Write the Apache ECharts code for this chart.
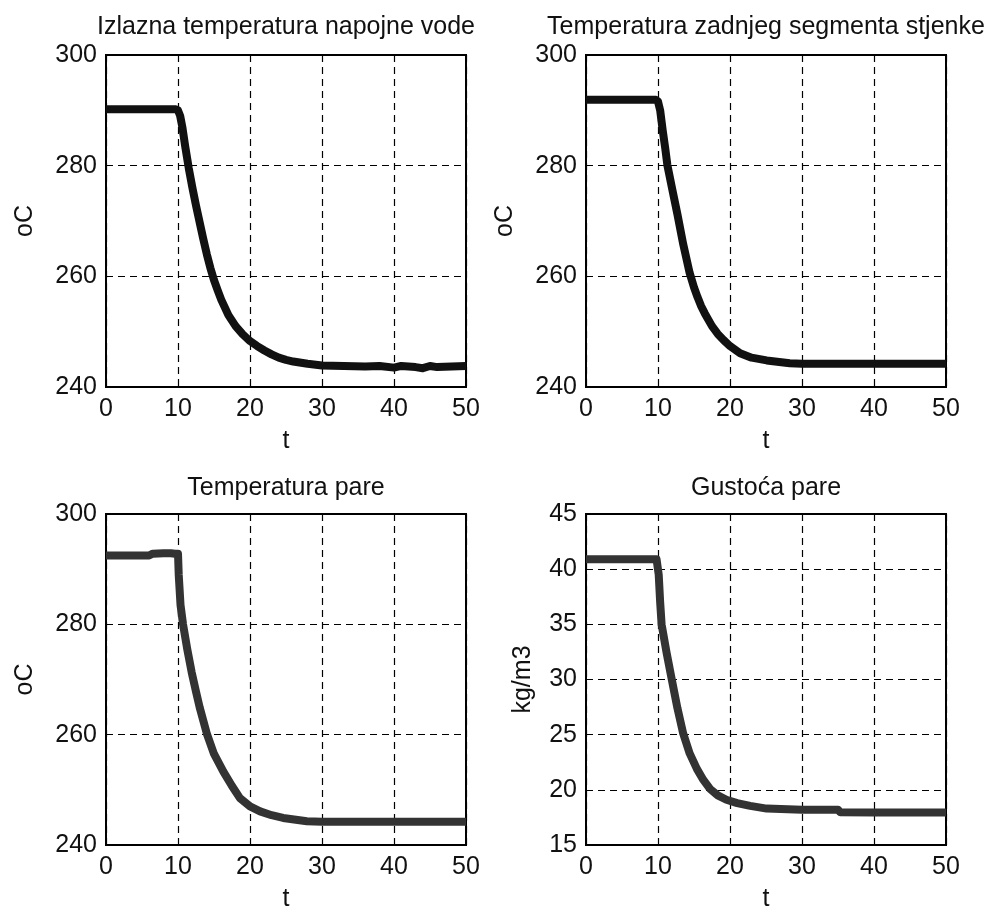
<!DOCTYPE html>
<html>
<head>
<meta charset="utf-8">
<script src="https://cdn.jsdelivr.net/npm/echarts@6/dist/echarts.min.js"></script>
<style>
html,body{margin:0;padding:0;background:#fff;}
#chart{width:994px;height:913px;}
</style>
</head>
<body>
<div id="chart"></div>
<script>
// ---- data ----
const titles = ['Izlazna temperatura napojne vode', 'Temperatura zadnjeg segmenta stjenke', 'Temperatura pare', 'Gustoća pare'];
const yNames = ['oC', 'oC', 'oC', 'kg/m3'];
const xTicks = [0, 10, 20, 30, 40, 50];
const yTicksTemp = [240, 260, 280, 300];
const yTicksDens = [15, 20, 25, 30, 35, 40, 45];

const tTL = [0, 5, 9.7, 10, 10.3, 10.6, 11, 11.5, 12, 12.5, 13, 13.5, 14, 14.5, 15, 15.5, 16, 17, 18, 19, 20, 21, 22, 23, 24, 25, 26, 28, 30, 33, 36, 38, 40, 41, 43, 44, 45, 46, 48, 50];
const vTL = [290.2, 290.2, 290.2, 290, 289, 287, 283.5, 279.5, 276, 272.8, 269.8, 266.8, 264, 261.5, 259.3, 257.5, 255.8, 253, 251, 249.5, 248.3, 247.4, 246.6, 245.9, 245.3, 244.9, 244.6, 244.2, 243.9, 243.8, 243.7, 243.8, 243.5, 243.8, 243.6, 243.4, 243.8, 243.6, 243.7, 243.8];

const tTR = [0, 9.7, 10, 10.3, 10.65, 11, 11.3, 12, 12.7, 13.5, 14.4, 15, 15.5, 16, 16.5, 17.5, 18.3, 19.1, 20, 21.4, 23, 25.1, 28.3, 30, 40, 50];
const vTR = [291.9, 291.9, 291.6, 290, 286.4, 283.2, 280.1, 275.6, 271.2, 265.8, 260.6, 258, 256.2, 254.6, 253.3, 251, 249.6, 248.5, 247.4, 246.1, 245.3, 244.8, 244.3, 244.2, 244.2, 244.2];

const tBL = [0, 6, 6.5, 8, 9, 9.6, 10, 10.1, 10.35, 10.7, 11.3, 11.9, 12.5, 13, 14, 15, 16.3, 17.5, 18.6, 20, 21.4, 23, 24.6, 27.9, 30, 40, 50];
const vBL = [292.5, 292.5, 292.8, 292.9, 292.9, 292.8, 292.8, 289, 283.5, 280, 275.4, 271.3, 267.8, 265, 260.2, 256.5, 253.3, 250.7, 248.5, 247, 246.1, 245.4, 244.9, 244.3, 244.2, 244.2, 244.2];

const tBR = [0, 9.8, 10, 10.1, 10.3, 10.5, 11.2, 11.9, 12.7, 13.5, 14.4, 15.4, 16.3, 17.2, 18.3, 19.5, 21, 22.8, 25.1, 30, 35, 35.3, 40, 50];
const vBR = [40.9, 40.9, 40.8, 39.5, 37, 35, 32.4, 30.05, 27.4, 25.1, 23.3, 21.9, 20.9, 20.1, 19.5, 19.1, 18.8, 18.55, 18.3, 18.2, 18.2, 17.97, 17.95, 17.95];

const seriesT = [tTL, tTR, tBL, tBR];
const seriesV = [vTL, vTR, vBL, vBR];
const lineColors = ['#111111', '#111111', '#333333', '#333333'];

// ---- layout ----
const FONT = '"Liberation Sans", Arial, sans-serif';
const grids = [
  {left: 106, top: 55, width: 360, height: 332},
  {left: 586, top: 55, width: 360, height: 332},
  {left: 106, top: 514, width: 360, height: 333},
  {left: 586, top: 514, width: 360, height: 333}
];
const titleTops = [15, 15, 476, 476];
const yNameGaps = [68, 68, 68, 50];

const option = {
  animation: false,
  backgroundColor: '#fff',
  title: titles.map((t, i) => ({
    text: t,
    left: grids[i].left + grids[i].width / 2,
    top: titleTops[i],
    textAlign: 'center',
    padding: 0,
    textStyle: {fontFamily: FONT, fontSize: 25, fontWeight: 'normal', color: '#111'}
  })),
  grid: grids.map(g => Object.assign({show: true, borderColor: '#000', borderWidth: 2, backgroundColor: 'transparent', containLabel: false}, g)),
  xAxis: grids.map((g, i) => ({
    gridIndex: i,
    type: 'value',
    min: xTicks[0],
    max: xTicks[xTicks.length - 1],
    interval: 10,
    name: 't',
    nameLocation: 'middle',
    nameGap: 42,
    nameTextStyle: {fontFamily: FONT, fontSize: 25, color: '#111'},
    axisLine: {show: false},
    axisTick: {show: true, inside: true, length: 5, lineStyle: {color: '#000'}},
    axisLabel: {fontFamily: FONT, fontSize: 25, color: '#111', margin: 10},
    splitLine: {show: true, lineStyle: {color: '#000', width: 1.2, type: [7, 5]}}
  })),
  yAxis: grids.map((g, i) => {
    const ticks = i === 3 ? yTicksDens : yTicksTemp;
    return {
      gridIndex: i,
      type: 'value',
      min: ticks[0],
      max: ticks[ticks.length - 1],
      interval: ticks[1] - ticks[0],
      name: yNames[i],
      nameLocation: 'middle',
      nameGap: yNameGaps[i],
      nameTextStyle: {fontFamily: FONT, fontSize: 25, color: '#111'},
      axisLine: {show: false},
      axisTick: {show: true, inside: true, length: 5, lineStyle: {color: '#000'}},
      axisLabel: {fontFamily: FONT, fontSize: 25, color: '#111', margin: 9},
      splitLine: {show: true, lineStyle: {color: '#000', width: 1.2, type: [7, 5]}}
    };
  }),
  series: seriesT.map((ts, i) => ({
    type: 'line',
    xAxisIndex: i,
    yAxisIndex: i,
    showSymbol: false,
    symbol: 'none',
    smooth: false,
    lineStyle: {color: lineColors[i], width: 8, join: 'round', cap: 'butt'},
    data: ts.map((t, k) => [t, seriesV[i][k]])
  }))
};

const chart = echarts.init(document.getElementById('chart'), null, {renderer: 'canvas'});
chart.setOption(option);
</script>
</body>
</html>
